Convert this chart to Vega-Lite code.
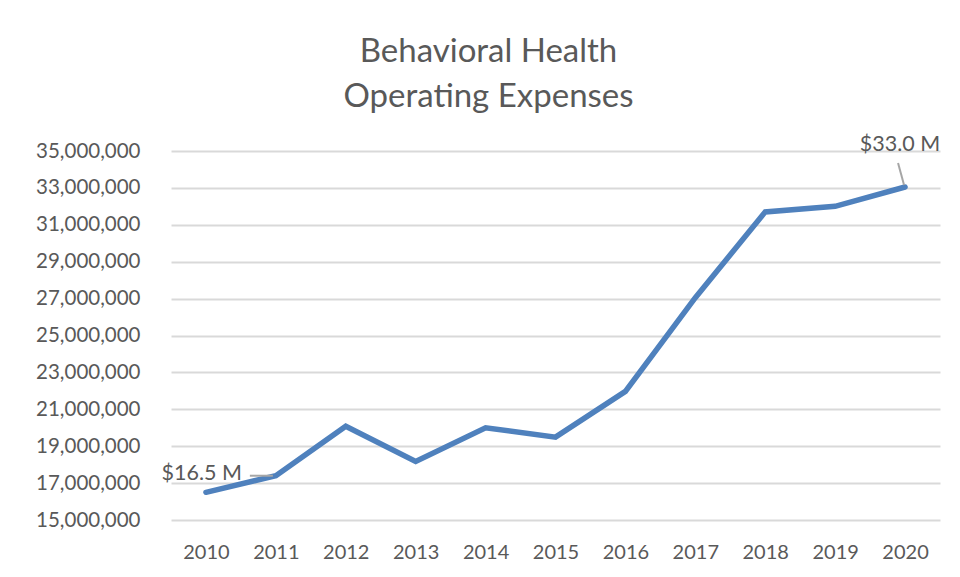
{
  "$schema": "https://vega.github.io/schema/vega-lite/v6.json",
  "autosize": {"type": "none"},
  "width": 769,
  "height": 369,
  "padding": {"left": 171, "top": 151, "right": 20, "bottom": 57},
  "background": "white",
  "title": {
    "text": ["Behavioral Health", "Operating Expenses"],
    "font": "Lato",
    "fontSize": 33,
    "fontWeight": "normal",
    "color": "#595959",
    "anchor": "middle",
    "frame": "group",
    "dx": -67,
    "lineHeight": 45,
    "offset": 20
  },
  "data": {
    "values": [
      {"year": "2010", "value": 16500000},
      {"year": "2011", "value": 17400000},
      {"year": "2012", "value": 20080000},
      {"year": "2013", "value": 18170000},
      {"year": "2014", "value": 20000000},
      {"year": "2015", "value": 19490000},
      {"year": "2016", "value": 21970000},
      {"year": "2017", "value": 27050000},
      {"year": "2018", "value": 31700000},
      {"year": "2019", "value": 32000000},
      {"year": "2020", "value": 33050000}
    ]
  },
  "encoding": {
    "x": {
      "field": "year",
      "type": "ordinal",
      "scale": {"type": "point", "padding": 0.5},
      "axis": {
        "title": null,
        "labelAngle": 0,
        "labelFont": "Lato",
        "labelFontSize": 20,
        "labelColor": "#595959",
        "labelPadding": 22,
        "ticks": false,
        "domain": false,
        "grid": false
      }
    },
    "y": {
      "field": "value",
      "type": "quantitative",
      "scale": {"domain": [15000000, 35000000], "nice": false, "zero": false},
      "axis": {
        "title": null,
        "values": [15000000, 17000000, 19000000, 21000000, 23000000, 25000000, 27000000, 29000000, 31000000, 33000000, 35000000],
        "format": ",d",
        "labelFont": "Lato",
        "labelFontSize": 20.5,
        "labelColor": "#595959",
        "labelPadding": 31,
        "ticks": false,
        "domain": false,
        "grid": true,
        "gridColor": "#d9d9d9",
        "gridWidth": 2
      }
    }
  },
  "layer": [
    {
      "mark": {"type": "line", "color": "#4f81bd", "strokeWidth": 5.5, "strokeCap": "round", "strokeJoin": "miter"}
    },
    {
      "transform": [{"filter": "datum.year == '2011'"}],
      "mark": {"type": "rule", "color": "#a6a6a6", "strokeWidth": 2, "xOffset": -26, "x2Offset": -3},
      "encoding": {
        "x2": {"field": "year"},
        "y2": {"field": "value"}
      }
    },
    {
      "transform": [{"filter": "datum.year == '2020'"}],
      "mark": {"type": "rule", "color": "#a6a6a6", "strokeWidth": 2, "xOffset": -7, "yOffset": -24, "x2Offset": -1, "y2Offset": -2},
      "encoding": {
        "x2": {"field": "year"},
        "y2": {"field": "value"}
      }
    },
    {
      "transform": [{"filter": "datum.year == '2010'"}, {"calculate": "'$16.5 M'", "as": "label"}],
      "mark": {"type": "text", "font": "Lato", "fontSize": 21.5, "color": "#595959", "align": "right", "baseline": "middle", "dx": 36, "dy": -18},
      "encoding": {"text": {"field": "label"}}
    },
    {
      "transform": [{"filter": "datum.year == '2020'"}, {"calculate": "'$33.0 M'", "as": "label"}],
      "mark": {"type": "text", "font": "Lato", "fontSize": 21.5, "color": "#595959", "align": "center", "baseline": "middle", "dx": -5, "dy": -42},
      "encoding": {"text": {"field": "label"}}
    }
  ],
  "config": {"view": {"stroke": null}}
}
